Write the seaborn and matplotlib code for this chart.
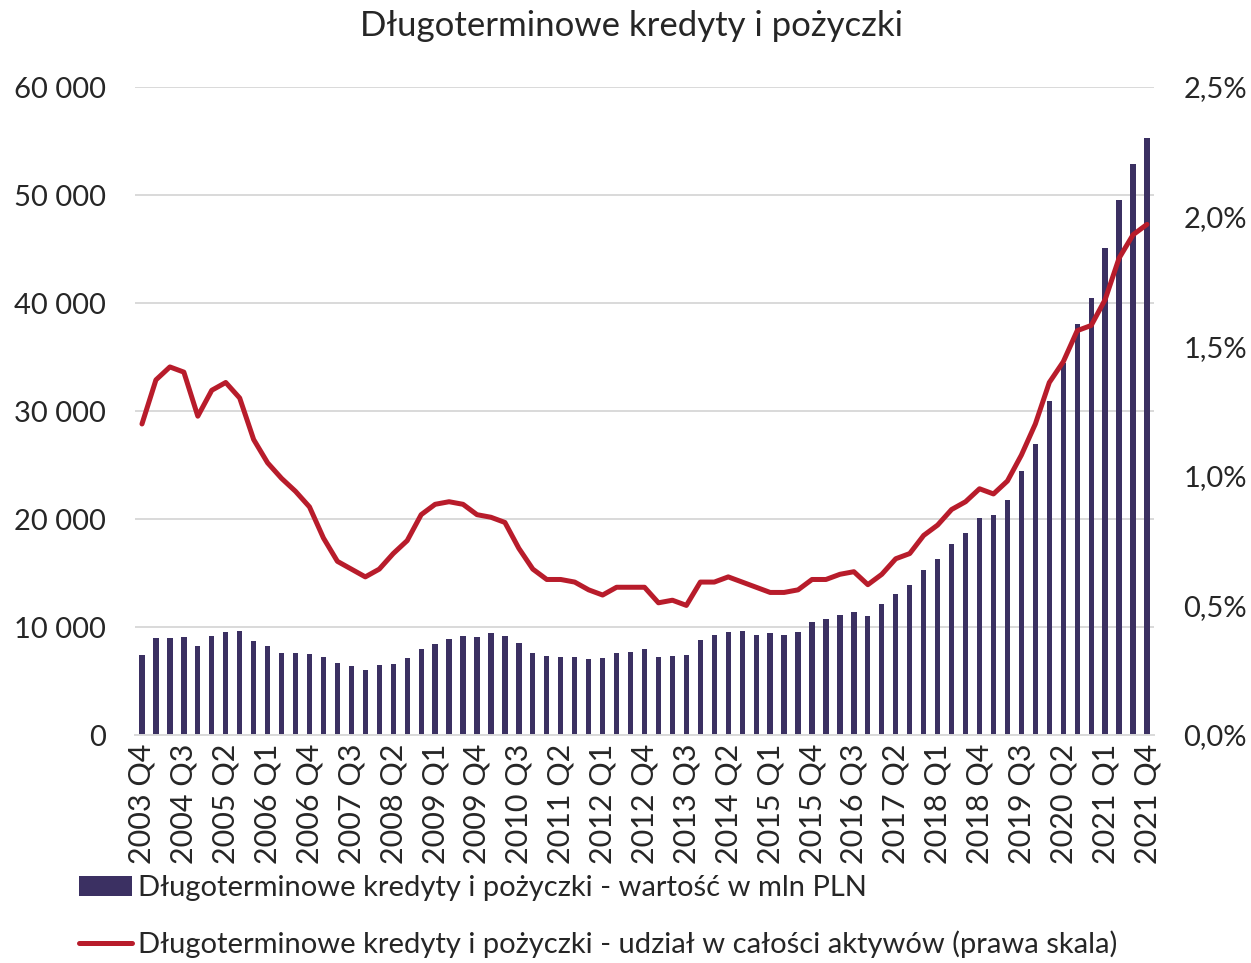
import pandas as pd
import matplotlib
matplotlib.use("Agg")
import matplotlib.pyplot as plt
import seaborn as sns
from matplotlib.ticker import FuncFormatter

# kwartaly 2003 Q4 - 2021 Q4
kwartaly = ["2003 Q4"] + [f"{r} Q{q}" for r in range(2004, 2022) for q in range(1, 5)]

# wartosc w mln PLN (lewa os)
wartosc = [
    7450, 9000, 9000, 9050, 8200, 9200, 9500, 9600, 8700, 8250,
    7600, 7600, 7500, 7200, 6650, 6400, 6050, 6500, 6550, 7100,
    8000, 8400, 8900, 9200, 9100, 9400, 9200, 8500, 7600, 7350,
    7250, 7200, 7000, 7150, 7550, 7700, 8000, 7250, 7350, 7450,
    8800, 9250, 9550, 9600, 9250, 9400, 9300, 9550, 10500, 10700,
    11150, 11350, 11000, 12100, 13050, 13850, 15300, 16300, 17700, 18700,
    20100, 20400, 21800, 24400, 26900, 30900, 34400, 38100, 40500, 45100,
    49500, 52900, 55300,
]

# udzial w calosci aktywow, % (prawa os)
udzial = [
    1.20, 1.37, 1.42, 1.40, 1.23, 1.33, 1.36, 1.30, 1.14, 1.05,
    0.99, 0.94, 0.88, 0.76, 0.67, 0.64, 0.61, 0.64, 0.70, 0.75,
    0.85, 0.89, 0.90, 0.89, 0.85, 0.84, 0.82, 0.72, 0.64, 0.60,
    0.60, 0.59, 0.56, 0.54, 0.57, 0.57, 0.57, 0.51, 0.52, 0.50,
    0.59, 0.59, 0.61, 0.59, 0.57, 0.55, 0.55, 0.56, 0.60, 0.60,
    0.62, 0.63, 0.58, 0.62, 0.68, 0.70, 0.77, 0.81, 0.87, 0.90,
    0.95, 0.93, 0.98, 1.08, 1.20, 1.36, 1.44, 1.56, 1.58, 1.68,
    1.84, 1.93, 1.97,
]

df = pd.DataFrame({"kwartal": kwartaly, "wartosc": wartosc, "udzial": udzial})

sns.set_theme(style="white")
plt.rcParams["font.family"] = ["Lato", "DejaVu Sans"]

fig, ax = plt.subplots(figsize=(12.51, 9.63), dpi=100)
fig.subplots_adjust(left=135 / 1251, right=1154 / 1251, top=1 - 87 / 963, bottom=1 - 735 / 963)

sns.barplot(data=df, x="kwartal", y="wartosc", color="#3b3062", saturation=1,
            width=0.38, linewidth=0, ax=ax,
            label="Długoterminowe kredyty i pożyczki - wartość w mln PLN")
ax.set_ylim(0, 60000)
ax.set_yticks(range(0, 60001, 10000))
ax.yaxis.set_major_formatter(FuncFormatter(lambda v, p: f"{int(v):,}".replace(",", " ")))
ax.grid(axis="y", color="#d9d9d9", lw=1.4)
ax.set_axisbelow(True)
for s in ["top", "left", "right"]:
    ax.spines[s].set_visible(False)
ax.spines["bottom"].set_color("#d9d9d9")
ax.spines["bottom"].set_linewidth(1.4)
ax.set_xlabel("")
ax.set_ylabel("")
ax.set_xticks(range(0, len(kwartaly), 3))
ax.set_xticklabels(kwartaly[::3], rotation=90)
ax.tick_params(axis="x", labelsize=22, pad=6, length=0)
ax.tick_params(axis="y", labelsize=21, pad=21, length=0)

ax2 = ax.twinx()
sns.lineplot(data=df, x="kwartal", y="udzial", color="#b81c2b", lw=3.6, ax=ax2,
             sort=False, label="Długoterminowe kredyty i pożyczki - udział w całości aktywów (prawa skala)")
ax2.set_ylim(0, 2.5)
ax2.set_yticks([0, 0.5, 1.0, 1.5, 2.0, 2.5])
ax2.yaxis.set_major_formatter(FuncFormatter(lambda v, p: f"{v:.1f}%".replace(".", ",")))
ax2.tick_params(axis="y", labelsize=21, pad=21, length=0)
ax2.set_ylabel("")
for s in ax2.spines.values():
    s.set_visible(False)
ax2.get_legend().remove()
ax.set_xlim(-0.5, len(kwartaly) - 0.5)

h1, l1 = ax.get_legend_handles_labels()
h2, l2 = ax2.get_legend_handles_labels()
leg = ax.get_legend()
if leg is not None:
    leg.remove()
fig.legend(h1 + h2, l1 + l2, loc="upper left", bbox_to_anchor=(53 / 1251, 1 - 849 / 963),
           frameon=False, fontsize=21, handlelength=1.8, handletextpad=0.2,
           labelspacing=1.0)

fig.suptitle("Długoterminowe kredyty i pożyczki", fontsize=25, x=632 / 1251, y=1 - 10 / 963, va="top")

fig.savefig("out.png", dpi=100)
